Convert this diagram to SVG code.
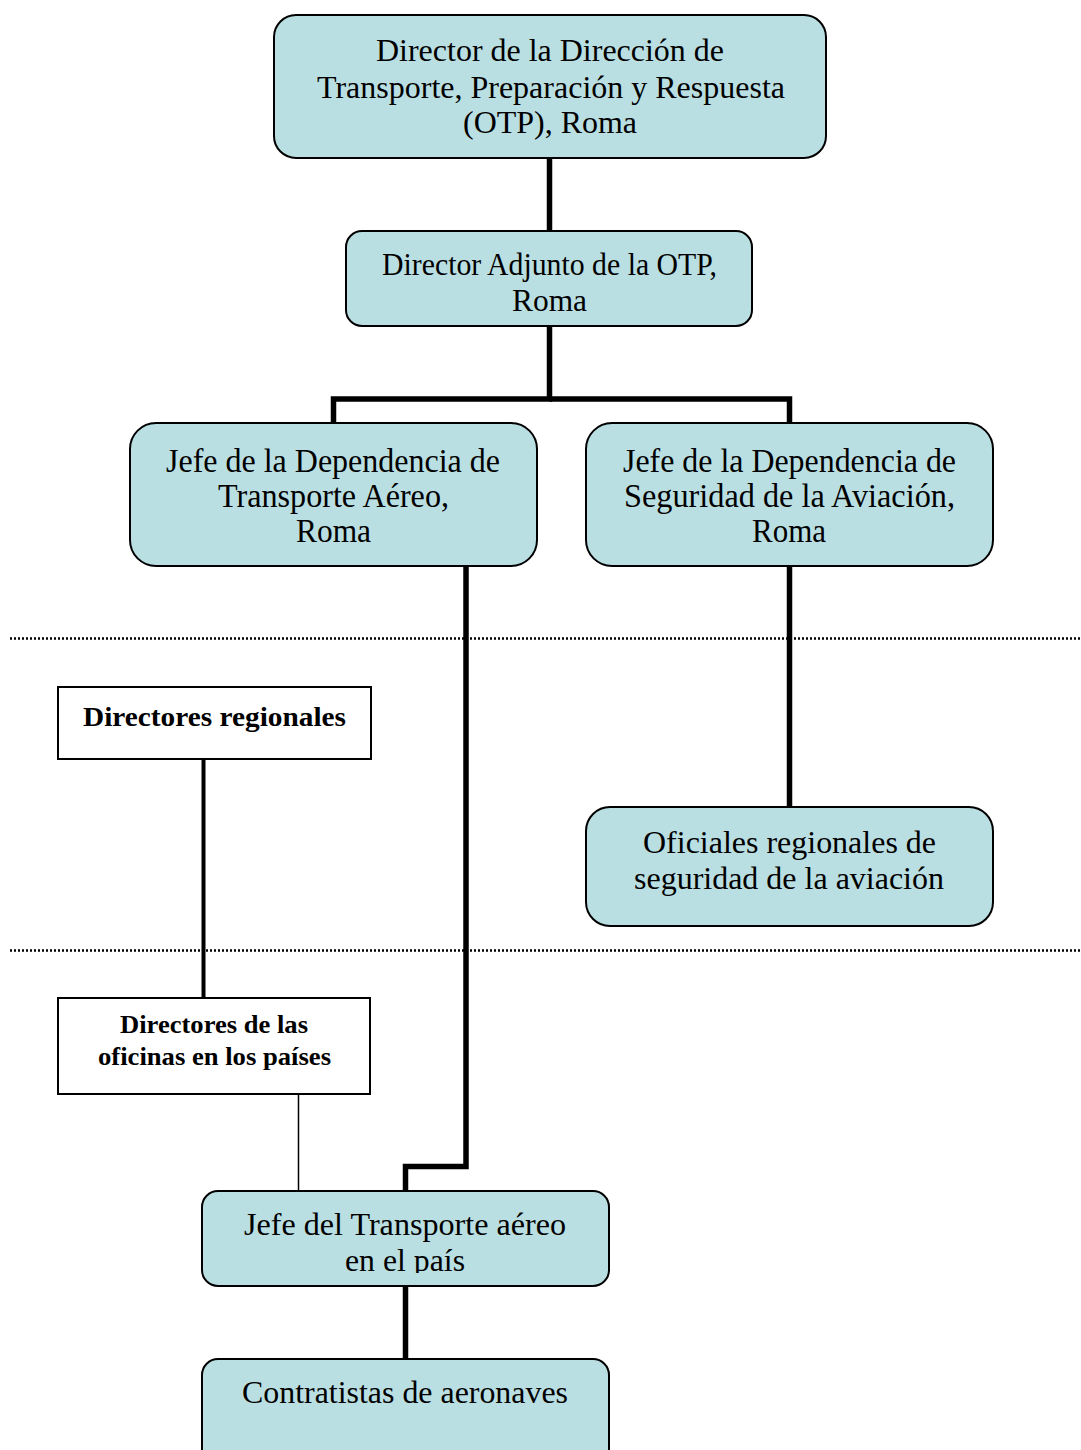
<svg xmlns="http://www.w3.org/2000/svg" width="1081" height="1450" viewBox="0 0 1081 1450">
<style>
.box{fill:#badfe2;stroke:#000;stroke-width:2}
.wbox{fill:#fff;stroke:#000;stroke-width:2}
.t{font-family:"Liberation Serif","Times New Roman",serif;font-size:32px;fill:#000;text-anchor:middle}
.c{font-size:34px}
.b{font-family:"Liberation Serif","Times New Roman",serif;font-weight:bold;fill:#000;text-anchor:middle}
.thick{fill:none;stroke:#000;stroke-width:5.5}
.dot{fill:none;stroke:#000;stroke-width:2.5;stroke-dasharray:2 2}
</style>
<defs>
<clipPath id="clipJT"><rect x="200" y="1189" width="412" height="84"/></clipPath>
</defs>
<rect width="1081" height="1450" fill="#fff"/>
<g id="separators">
<line class="dot" x1="10" y1="638.5" x2="1081" y2="638.5"/>
<line class="dot" x1="10" y1="950.5" x2="1081" y2="950.5"/>
</g>
<g id="connectors">
<line class="thick" x1="549.5" y1="158" x2="549.5" y2="231"/>
<polyline class="thick" points="549.5,326 549.5,399 333.5,399 333.5,423"/>
<polyline class="thick" points="549.5,399 789.5,399 789.5,423"/>
<line class="thick" x1="789.5" y1="566" x2="789.5" y2="807"/>
<polyline class="thick" points="466,566 466,1166.5 405.5,1166.5 405.5,1191"/>
<line fill="none" stroke="#000" stroke-width="4" x1="203.5" y1="759" x2="203.5" y2="998"/>
<line fill="none" stroke="#000" stroke-width="1.5" x1="298.5" y1="1094" x2="298.5" y2="1191"/>
<line class="thick" x1="405.5" y1="1286" x2="405.5" y2="1359"/>
</g>
<g id="n-director">
<rect class="box" x="274" y="15" width="552" height="143" rx="22"/>
<text class="t" x="550" y="61" textLength="348" lengthAdjust="spacingAndGlyphs">Director de la Dirección de</text>
<text class="t" x="551" y="98" textLength="468" lengthAdjust="spacingAndGlyphs">Transporte, Preparación y Respuesta</text>
<text class="t" x="550" y="133" textLength="174" lengthAdjust="spacingAndGlyphs">(OTP), Roma</text>
</g>
<g id="n-adjunto">
<rect class="box" x="346" y="231" width="406" height="95" rx="16"/>
<text class="t" x="549.5" y="275" textLength="335" lengthAdjust="spacingAndGlyphs">Director Adjunto de la OTP,</text>
<text class="t" x="549.5" y="311" textLength="75" lengthAdjust="spacingAndGlyphs">Roma</text>
</g>
<g id="n-jefe-aereo">
<rect class="box" x="130" y="423" width="407" height="143" rx="26"/>
<text class="t c" x="333" y="472" textLength="334" lengthAdjust="spacingAndGlyphs">Jefe de la Dependencia de</text>
<text class="t c" x="333.5" y="507" textLength="231" lengthAdjust="spacingAndGlyphs">Transporte Aéreo,</text>
<text class="t c" x="333.5" y="542" textLength="75" lengthAdjust="spacingAndGlyphs">Roma</text>
</g>
<g id="n-jefe-seguridad">
<rect class="box" x="586" y="423" width="407" height="143" rx="26"/>
<text class="t c" x="789.5" y="472" textLength="333" lengthAdjust="spacingAndGlyphs">Jefe de la Dependencia de</text>
<text class="t c" x="789.5" y="507" textLength="331" lengthAdjust="spacingAndGlyphs">Seguridad de la Aviación,</text>
<text class="t c" x="789" y="542" textLength="74" lengthAdjust="spacingAndGlyphs">Roma</text>
</g>
<g id="n-directores-regionales">
<rect class="wbox" x="58" y="687" width="313" height="72"/>
<text class="b" x="214.5" y="726" font-size="28" textLength="263" lengthAdjust="spacingAndGlyphs">Directores regionales</text>
</g>
<g id="n-oficiales">
<rect class="box" x="586" y="807" width="407" height="119" rx="24"/>
<text class="t" x="789.5" y="853" textLength="293" lengthAdjust="spacingAndGlyphs">Oficiales regionales de</text>
<text class="t" x="789" y="889" textLength="310" lengthAdjust="spacingAndGlyphs">seguridad de la aviación</text>
</g>
<g id="n-directores-oficinas">
<rect class="wbox" x="58" y="998" width="312" height="96"/>
<text class="b" x="214" y="1033" font-size="26" textLength="188" lengthAdjust="spacingAndGlyphs">Directores de las</text>
<text class="b" x="214.5" y="1065" font-size="26" textLength="233" lengthAdjust="spacingAndGlyphs">oficinas en los países</text>
</g>
<g id="n-jefe-transporte-pais">
<rect class="box" x="202" y="1191" width="407" height="95" rx="16"/>
<g clip-path="url(#clipJT)">
<text class="t" x="405" y="1235" textLength="322" lengthAdjust="spacingAndGlyphs">Jefe del Transporte aéreo</text>
<text class="t" x="405" y="1271" textLength="120" lengthAdjust="spacingAndGlyphs">en el país</text>
</g>
</g>
<g id="n-contratistas">
<rect class="box" x="202" y="1359" width="407" height="110" rx="16"/>
<text class="t" x="405" y="1403" textLength="326" lengthAdjust="spacingAndGlyphs">Contratistas de aeronaves</text>
</g>
</svg>
